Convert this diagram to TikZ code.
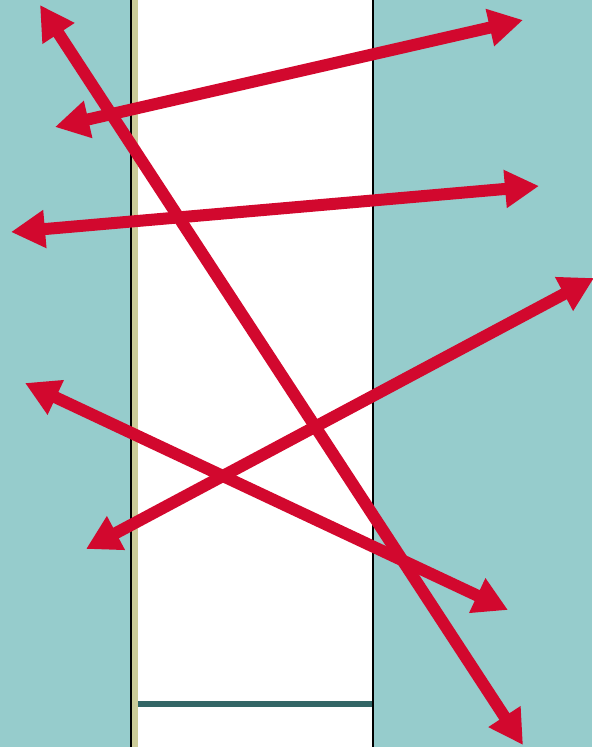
\documentclass[tikz,border=0pt]{standalone}
\usetikzlibrary{arrows.meta}

\definecolor{seateal}{RGB}{150,204,204}
\definecolor{rayred}{RGB}{210,8,46}
\definecolor{khaki}{RGB}{204,204,153}
\definecolor{floorteal}{RGB}{51,102,102}

\begin{document}
\begin{tikzpicture}[
        x=1pt, y=-1pt,
        ray/.style={
            draw=rayred,
            line width=12pt,
            {Triangle[length=34pt,width=36pt]}-{Triangle[length=34pt,width=36pt]}
        },
        edge/.style={draw=black, line width=2pt}
    ]

    \useasboundingbox (0,0) rectangle (592,747);

    % background and the strip
    \fill[seateal] (0,0) rectangle (592,747);
    \fill[white] (131,0) rectangle (372,747);
    \fill[khaki] (131.5,0) rectangle (138,747);
    \draw[edge] (130.8,0) -- (130.8,747);
    \draw[edge] (372.5,0) -- (372.5,747);
    \fill[floorteal] (138,701) rectangle (372,707);

    % end points of the rays
    \coordinate (a1) at (40,5);
    \coordinate (a2) at (523,745);
    \coordinate (b1) at (55,127);
    \coordinate (b2) at (523,20);
    \coordinate (c1) at (11,232);
    \coordinate (c2) at (539,186);
    \coordinate (d1) at (86,549);
    \coordinate (d2) at (594,278);
    \coordinate (e1) at (25,383);
    \coordinate (e2) at (508,610);

    \draw[ray] (a1) -- (a2);
    \draw[ray] (b1) -- (b2);
    \draw[ray] (c1) -- (c2);
    \draw[ray] (d1) -- (d2);
    \draw[ray] (e1) -- (e2);

\end{tikzpicture}
\end{document}
